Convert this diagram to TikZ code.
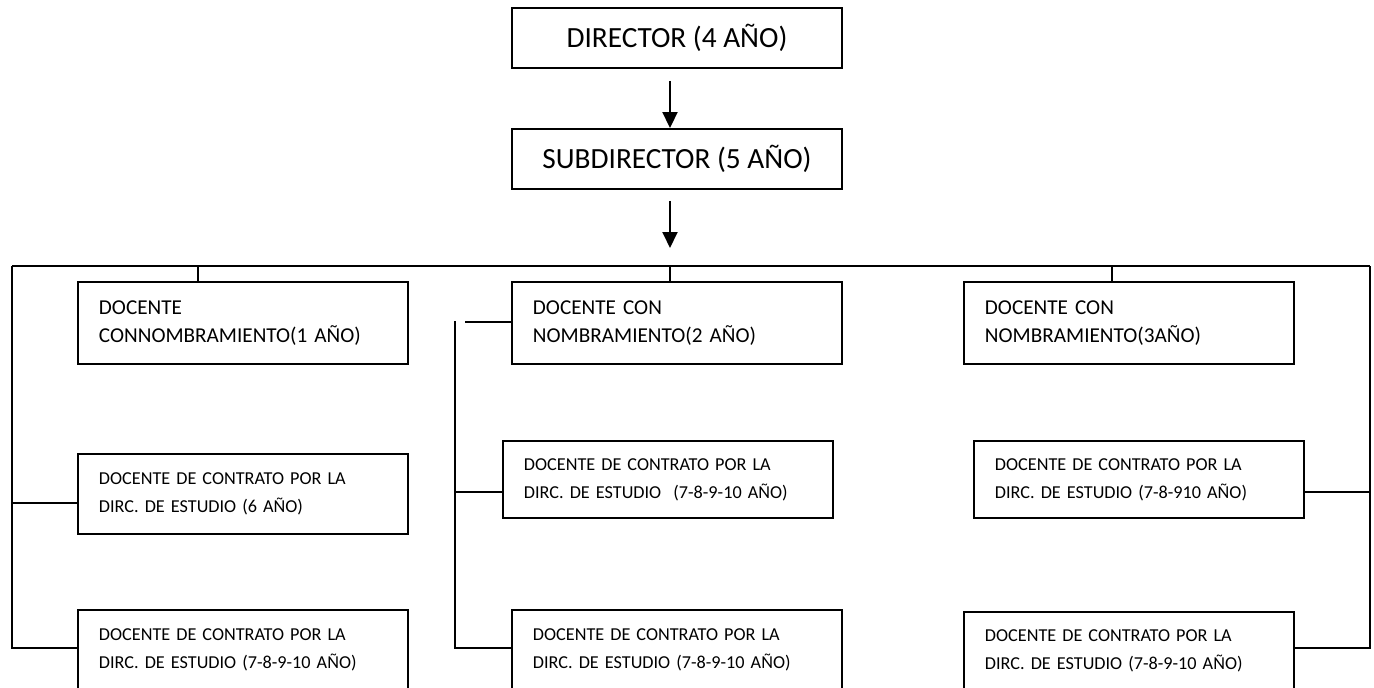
\documentclass[tikz,border=0pt]{standalone}
\usepackage{fontspec}
\setmainfont{Carlito}
\usetikzlibrary{arrows.meta,calc}
\begin{document}
\begin{tikzpicture}[x=1pt,y=-1pt,
  topbox/.style={draw, line width=1.9pt, minimum width=330pt, minimum height=60pt, inner sep=0pt, font=\fontsize{29.3}{35}\selectfont},
  box/.style={draw, line width=1.9pt, anchor=north west, inner xsep=21pt, inner ysep=0pt, align=left, minimum width=330pt, text width=288pt},
  big/.style={font=\fontsize{21.2}{28}\selectfont},
  small/.style={font=\fontsize{18.2}{28}\selectfont},
  link/.style={line width=1.9pt},
  arr/.style={line width=1.9pt, -{Triangle[width=15pt,length=16pt]}}]
\useasboundingbox (0,0) rectangle (1374,688);

% top
\node[topbox] (dir) at (677,38) {DIRECTOR (4 AÑO)};
\node[topbox] (sub) at (677,159) {SUBDIRECTOR (5 AÑO)};
\coordinate (hub) at (670,266);
\draw[arr] ($(dir.south)+(-7,12)$) -- ($(sub.north)+(-7,0)$);
\draw[arr] ($(sub.south)+(-7,11)$) -- ($(hub)+(0,-18)$);

% left column
\node[box,big,minimum height=82pt] (c1) at (77,281) {DOCENTE\\CONNOMBRAMIENTO(1 AÑO)};
\node[box,small,minimum height=80pt] (c2) at (77,453) {DOCENTE DE CONTRATO POR LA\\DIRC. DE ESTUDIO (6 AÑO)};
\node[box,small,minimum height=79.5pt] (c3) at (77,609) {DOCENTE DE CONTRATO POR LA\\DIRC. DE ESTUDIO (7-8-9-10 AÑO)};

% middle column
\node[box,big,minimum height=82pt] (c4) at (511,281) {DOCENTE CON\\NOMBRAMIENTO(2 AÑO)};
\node[box,small,minimum height=77pt] (c5) at (502,440) {DOCENTE DE CONTRATO POR LA\\DIRC. DE ESTUDIO\ \ (7-8-9-10 AÑO)};
\node[box,small,minimum height=79.5pt] (c6) at (511,609) {DOCENTE DE CONTRATO POR LA\\DIRC. DE ESTUDIO (7-8-9-10 AÑO)};

% right column
\node[box,big,minimum height=82pt] (c7) at (963,281) {DOCENTE CON\\NOMBRAMIENTO(3AÑO)};
\node[box,small,minimum height=77pt] (c8) at (973,440) {DOCENTE DE CONTRATO POR LA\\DIRC. DE ESTUDIO (7-8-910 AÑO)};
\node[box,small,minimum height=77.5pt] (c9) at (963,611) {DOCENTE DE CONTRATO POR LA\\DIRC. DE ESTUDIO (7-8-9-10 AÑO)};

% bar and drops
\coordinate (barL) at (12,266);
\coordinate (barR) at (1370,266);
\coordinate (j1) at (198,266);
\coordinate (j3) at (1112,266);
\draw[link] (barL) -- (barR);
\draw[link] (j1) -- (j1 |- c1.north);
\draw[link] (hub) -- (hub |- c4.north);
\draw[link] (j3) -- (j3 |- c7.north);

% left spine
\coordinate (l2) at (12,503);
\coordinate (l3) at (12,648);
\draw[link] (barL) -- (l3) -- (l3 -| c3.west);
\draw[link] (l2) -- (l2 -| c2.west);

% middle spine
\coordinate (mtop) at (455,321);
\coordinate (mm) at (455,492);
\coordinate (mbot) at (455,648);
\coordinate (ms) at (465,322);
\draw[link] (mtop) -- (mbot) -- (mbot -| c6.west);
\draw[link] (mm) -- (mm -| c5.west);
\draw[link] (ms) -- (ms -| c4.west);

% right spine
\coordinate (r2) at (1370,492);
\coordinate (r3) at (1370,648);
\draw[link] (barR) -- (r3) -- (r3 -| c9.east);
\draw[link] (r2) -- (r2 -| c8.east);
\end{tikzpicture}
\end{document}
